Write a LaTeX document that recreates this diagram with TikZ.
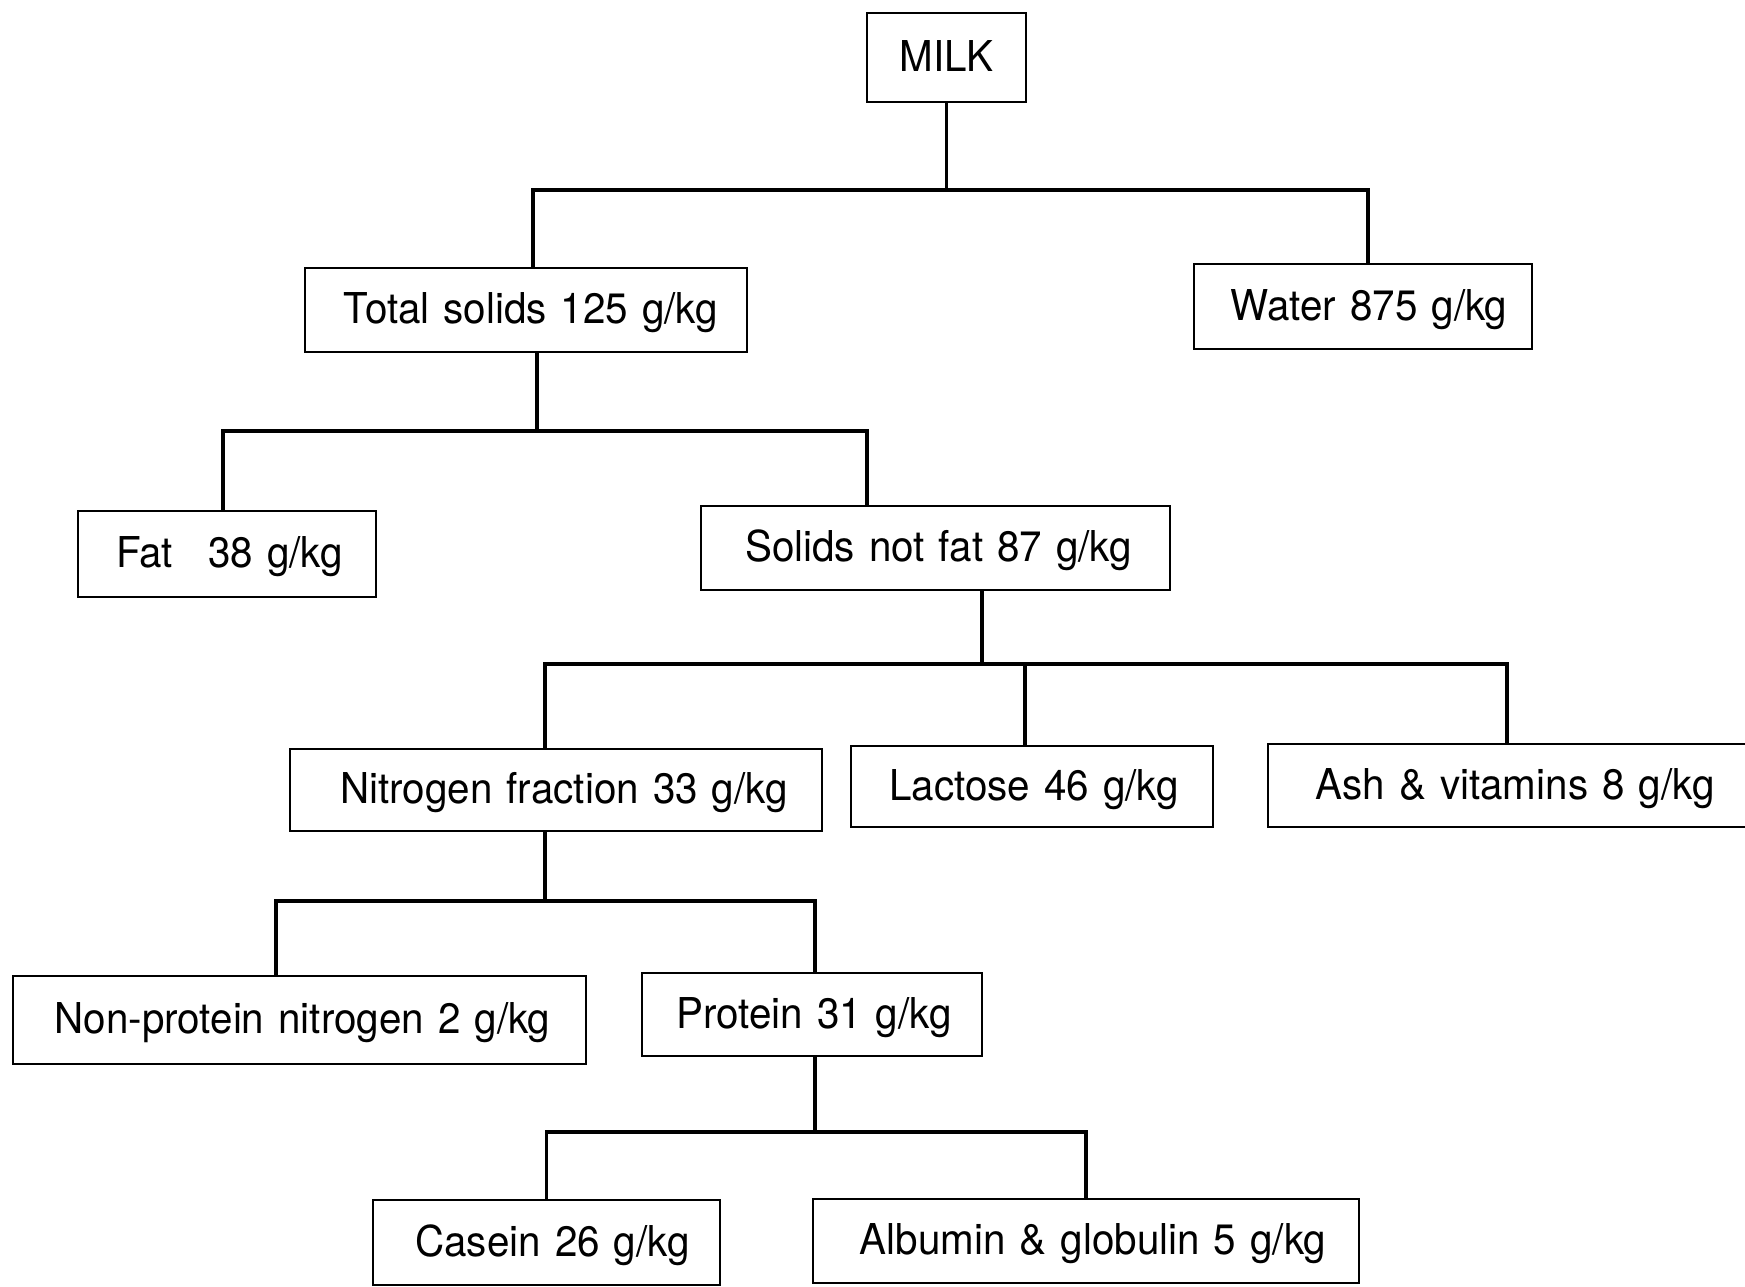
\documentclass[tikz,border=0pt]{standalone}
\usepackage{fontspec}
\setmainfont[FakeStretch=0.95,WordSpace=1.25]{TeX Gyre Heros}
\newdimen\pxu
\pxu=0.4pt
\newcommand{\sh}[1]{\hspace*{#1\pxu}}
\begin{document}
\begin{tikzpicture}[x=0.4pt,y=-0.4pt,
  box/.style={draw, line width=0.8pt, inner sep=0pt, text height=12.5pt, text depth=1.5pt,
    font=\fontsize{17}{20}\selectfont},
  conn/.style={line width=1.4pt}]
\useasboundingbox (0,0) rectangle (1745,1286);
\node[box, minimum width=159\pxu, minimum height=89\pxu] (milk) at (946.5,57.5) {MILK};
\node[box, minimum width=442\pxu, minimum height=84\pxu] (ts) at (526,310) {\sh{10}Total solids 125 g/kg};
\node[box, minimum width=338\pxu, minimum height=85\pxu] (water) at (1363,306.5) {\sh{12}Water 875 g/kg};
\node[box, minimum width=298\pxu, minimum height=86\pxu] (fat) at (227,554) {\sh{5}Fat\hspace{14pt}38 g/kg};
\node[box, minimum width=469\pxu, minimum height=84\pxu] (snf) at (935.5,548) {\sh{6}Solids not fat 87 g/kg};
\node[box, minimum width=532\pxu, minimum height=82\pxu] (nf) at (556,790) {\sh{16}Nitrogen fraction 33 g/kg};
\node[box, minimum width=362\pxu, minimum height=81\pxu] (lac) at (1032,786.5) {\sh{4}Lactose 46 g/kg};
\node[box, minimum width=494\pxu, minimum height=83\pxu] (ash) at (1515,785.5) {Ash \& vitamins 8 g/kg};
\node[box, minimum width=573\pxu, minimum height=88\pxu] (npn) at (299.5,1020) {\sh{6}Non-protein nitrogen 2 g/kg};
\node[box, minimum width=340\pxu, minimum height=83\pxu] (prot) at (812,1014.5) {\sh{4}Protein 31 g/kg};
\node[box, minimum width=347\pxu, minimum height=85\pxu] (cas) at (546.5,1242.5) {\sh{12}Casein 26 g/kg};
\node[box, minimum width=546\pxu, minimum height=84\pxu] (alb) at (1086,1241) {\sh{14}Albumin \& globulin 5 g/kg};
% level 1
\coordinate (b1) at (946.5,190);
\draw[conn] (milk.south) -- (b1);
\draw[conn] (ts.north -| 533,0) |- (b1) -| (water.north -| 1368,0);
% level 2
\coordinate (b2) at (537,431);
\draw[conn] (ts.south -| b2) -- (b2);
\draw[conn] (fat.north -| 223,0) |- (b2) -| (snf.north -| 867,0);
% level 3
\coordinate (b3) at (982,664);
\draw[conn] (snf.south -| b3) -- (b3);
\draw[conn] (nf.north -| 545,0) |- (b3) -| (ash.north -| 1507,0);
\draw[conn] (lac.north -| 1025,0) -- (b3 -| 1025,0);
% level 4
\coordinate (b4) at (545,901);
\draw[conn] (nf.south -| b4) -- (b4);
\draw[conn] (npn.north -| 276,0) |- (b4) -| (prot.north -| 815,0);
% level 5
\coordinate (b5) at (815,1132);
\draw[conn] (prot.south -| b5) -- (b5);
\draw[conn] (cas.north) |- (b5) -| (alb.north);
\end{tikzpicture}
\end{document}
